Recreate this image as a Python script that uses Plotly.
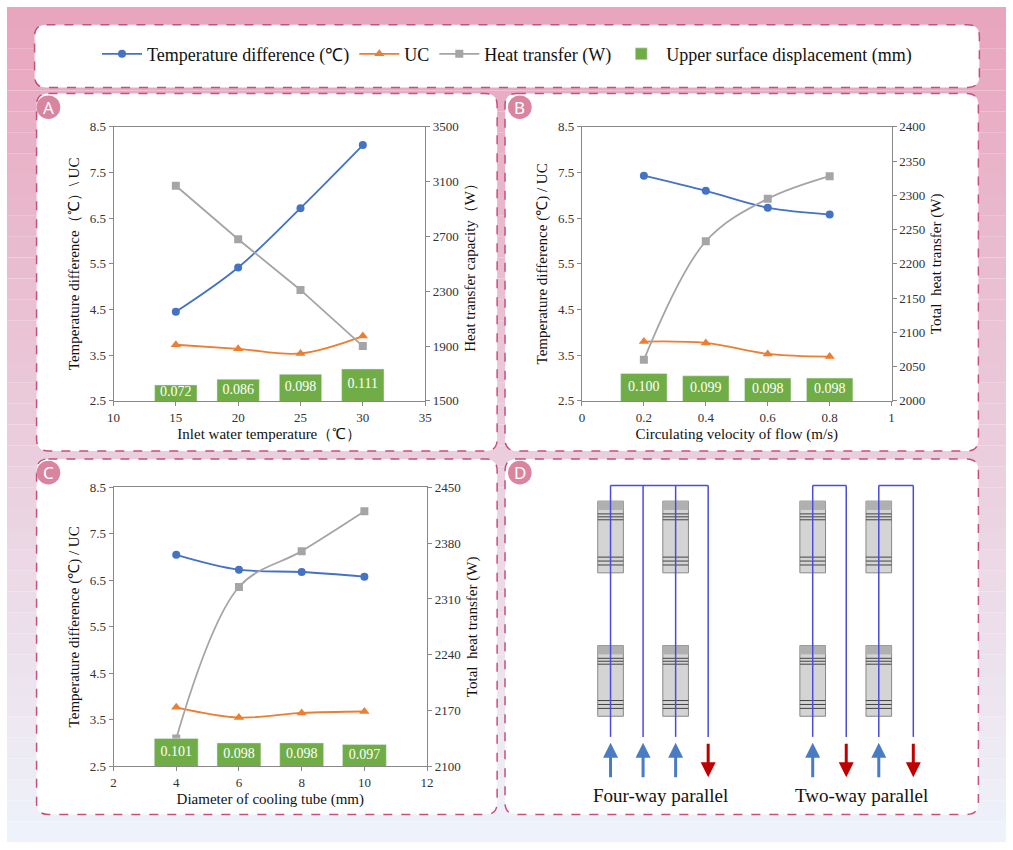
import plotly.graph_objects as go

W, H = 1013, 850
FONT = "Liberation Serif"
BLUE, ORANGE, GRAY, GREEN = "#4472c4", "#ed7d31", "#a5a5a5", "#70ad47"

# ---- data ----
a_x = [15, 20, 25, 30]
a_temp = [4.45, 5.42, 6.72, 8.10]
a_uc = [3.73, 3.64, 3.54, 3.92]
a_heat = [3070, 2680, 2310, 1900]
a_disp = [0.072, 0.086, 0.098, 0.111]

b_x = [0.2, 0.4, 0.6, 0.8]
b_temp = [7.43, 7.10, 6.73, 6.58]
b_uc = [3.80, 3.77, 3.53, 3.47]
b_heat = [2060, 2233, 2295, 2328]
b_disp = [0.100, 0.099, 0.098, 0.098]

c_x = [4, 6, 8, 10]
c_temp = [7.05, 6.73, 6.68, 6.58]
c_uc = [3.77, 3.55, 3.65, 3.68]
c_heat = [2135, 2325, 2370, 2420]
c_disp = [0.101, 0.098, 0.098, 0.097]

def fx(p): return p / W
def fy(p): return 1 - p / H

fig = go.Figure()
shapes, annos = [], []

# background gradient
top, bot = (232, 166, 190), (238, 242, 250)
N = 40
for i in range(N):
    t = i / (N - 1)
    c = tuple(int(top[k] + (bot[k] - top[k]) * t) for k in range(3))
    shapes.append(dict(type="rect", xref="paper", yref="paper", x0=0, x1=1,
                       y0=1 - (i + 1) / N, y1=1 - i / N, fillcolor="rgb(%d,%d,%d)" % c,
                       line=dict(width=0), layer="below"))

def rbox(x0, y0, x1, y1, r=12):
    X0, X1 = fx(x0), fx(x1)
    Y0, Y1 = fy(y1), fy(y0)
    rx, ry = r / W, r / H
    path = (f"M {X0+rx},{Y1} L {X1-rx},{Y1} Q {X1},{Y1} {X1},{Y1-ry} L {X1},{Y0+ry} "
            f"Q {X1},{Y0} {X1-rx},{Y0} L {X0+rx},{Y0} Q {X0},{Y0} {X0},{Y0+ry} "
            f"L {X0},{Y1-ry} Q {X0},{Y1} {X0+rx},{Y1} Z")
    shapes.append(dict(type="path", path=path, xref="paper", yref="paper",
                       fillcolor="white", line=dict(color="#c4507c", width=1.5, dash="dash"),
                       layer="below"))

rbox(28, 18, 986, 82)
rbox(30, 88, 497, 452)
rbox(505, 88, 985, 452)
rbox(30, 460, 497, 822)
rbox(505, 460, 985, 822)

for lab, (cx, cy) in zip("ABCD", [(42, 102), (520, 102), (42, 474), (520, 474)]):
    shapes.append(dict(type="circle", xref="paper", yref="paper",
                       x0=fx(cx - 12), x1=fx(cx + 12), y0=fy(cy + 12), y1=fy(cy - 12),
                       fillcolor="#d9859f", line=dict(width=0)))
    annos.append(dict(text=lab, x=fx(cx), y=fy(cy), xref="paper", yref="paper",
                      xanchor="center", yanchor="middle",
                      showarrow=False, font=dict(color="white", size=17, family="Noto Sans")))

panels = [
    dict(x=a_x, temp=a_temp, uc=a_uc, heat=a_heat, disp=a_disp, dom=(108, 424, 122, 401),
         xr=[10, 35], xd=5, hr=[1500, 3500], hd=400, br=[0.033, 0.702], bw=3.4,
         xt="Inlet water temperature（℃）", yt="Temperature difference（℃）\\ UC",
         rt="Heat transfer capacity（W）", hshape="linear"),
    dict(x=b_x, temp=b_temp, uc=b_uc, heat=b_heat, disp=b_disp, dom=(583, 897, 122, 401),
         xr=[0, 1], xd=0.2, hr=[2000, 2400], hd=50, br=[0.088, 0.208], bw=0.15,
         xt="Circulating velocity of flow (m/s)", yt="Temperature difference (℃) / UC",
         rt="Total  heat transfer (W)", hshape="spline"),
    dict(x=c_x, temp=c_temp, uc=c_uc, heat=c_heat, disp=c_disp, dom=(108, 426, 489, 773),
         xr=[2, 12], xd=2, hr=[2100, 2450], hd=70, br=[0.0825, 0.267], bw=1.4,
         xt="Diameter of cooling tube (mm)", yt="Temperature difference (℃) / UC",
         rt="Total  heat transfer (W)", hshape="spline"),
]

tf = dict(family=FONT, size=13, color="#333")
layout_axes = {}
for i, p in enumerate(panels):
    xn = i + 1
    y1n, y2n, y3n = 3 * i + 1, 3 * i + 2, 3 * i + 3
    xa = "x" if xn == 1 else f"x{xn}"
    ya = lambda n: "y" if n == 1 else f"y{n}"
    x0, x1, t0, t1 = p["dom"]
    dom_x = [fx(x0), fx(x1)]
    dom_y = [fy(t1), fy(t0)]
    layout_axes["xaxis" if xn == 1 else f"xaxis{xn}"] = dict(
        domain=dom_x, range=p["xr"], dtick=p["xd"], anchor=ya(y1n), showgrid=False,
        zeroline=False, showline=True, linecolor="#888", mirror=True, ticks="outside",
        ticklen=4, tickcolor="#888", tickfont=tf,
        title=dict(text=p["xt"], font=dict(family=FONT, size=15, color="#111"), standoff=4))
    layout_axes["yaxis" if y1n == 1 else f"yaxis{y1n}"] = dict(
        domain=dom_y, range=[2.5, 8.5], dtick=1, tick0=2.5, anchor=xa, showgrid=False,
        zeroline=False, showline=True, linecolor="#888", ticks="outside", ticklen=4,
        tickcolor="#888", tickfont=tf,
        title=dict(text=p["yt"], font=dict(family=FONT, size=15, color="#111"), standoff=6))
    layout_axes[f"yaxis{y2n}"] = dict(
        domain=dom_y, range=p["hr"], dtick=p["hd"], tick0=p["hr"][0], anchor=xa,
        overlaying=ya(y1n), side="right", showgrid=False, zeroline=False, showline=True,
        linecolor="#888", ticks="outside", ticklen=4, tickcolor="#888", tickfont=tf,
        title=dict(text=p["rt"], font=dict(family=FONT, size=15, color="#111"), standoff=6))
    layout_axes[f"yaxis{y3n}"] = dict(
        domain=dom_y, range=p["br"], anchor=xa, overlaying=ya(y1n), visible=False)

    show = i == 0
    fig.add_trace(go.Bar(x=p["x"], y=p["disp"], width=p["bw"], marker_color=GREEN,
                         name="Upper surface displacement (mm)", showlegend=show,
                         legendrank=4, xaxis=xa, yaxis=ya(y3n)))
    fig.add_trace(go.Scatter(x=p["x"], y=[(p["br"][0] + v) / 2 for v in p["disp"]],
                             mode="text", text=["%.3f" % v for v in p["disp"]],
                             textfont=dict(color="white", family=FONT, size=14),
                             showlegend=False, hoverinfo="skip", cliponaxis=False,
                             xaxis=xa, yaxis=ya(y3n)))
    fig.add_trace(go.Scatter(x=p["x"], y=p["heat"], mode="lines+markers",
                             line=dict(color=GRAY, width=1.8, shape=p["hshape"]),
                             marker=dict(symbol="square", size=8, color=GRAY),
                             name="Heat transfer (W)", showlegend=show, legendrank=3,
                             xaxis=xa, yaxis=ya(y2n)))
    fig.add_trace(go.Scatter(x=p["x"], y=p["uc"], mode="lines+markers",
                             line=dict(color=ORANGE, width=1.8, shape="spline"),
                             marker=dict(symbol="triangle-up", size=9, color=ORANGE),
                             name="UC", showlegend=show, legendrank=2,
                             xaxis=xa, yaxis=ya(y1n)))
    fig.add_trace(go.Scatter(x=p["x"], y=p["temp"], mode="lines+markers",
                             line=dict(color=BLUE, width=1.8, shape="spline"),
                             marker=dict(symbol="circle", size=8, color=BLUE),
                             name="Temperature difference (℃)", showlegend=show,
                             legendrank=1, xaxis=xa, yaxis=ya(y1n)))

# ---- panel D schematic ----
def line(x0, y0, x1, y1, color="#4b4bdc", w=1.5):
    shapes.append(dict(type="line", xref="paper", yref="paper", x0=fx(x0), y0=fy(y0),
                       x1=fx(x1), y1=fy(y1), line=dict(color=color, width=w)))

def block(xc, yt, yb):
    shapes.append(dict(type="rect", xref="paper", yref="paper", x0=fx(xc - 13), x1=fx(xc + 13),
                       y0=fy(yb), y1=fy(yt), fillcolor="#d4d4d4", line=dict(color="#888", width=1)))
    shapes.append(dict(type="rect", xref="paper", yref="paper", x0=fx(xc - 13), x1=fx(xc + 13),
                       y0=fy(yt + 9), y1=fy(yt), fillcolor="#b0b0b0", line=dict(width=0)))
    for dy in (13, 16, 19, yb - yt - 16, yb - yt - 12, yb - yt - 8):
        line(xc - 13, yt + dy, xc + 13, yt + dy, color="#444", w=1)

def arrow(x, up):
    if up:
        annos.append(dict(x=fx(x), y=fy(749), ax=0, ay=36, xref="paper", yref="paper",
                          showarrow=True, arrowhead=2,
                          arrowsize=1, arrowwidth=3, arrowcolor="#4a7cc4", text=""))
    else:
        annos.append(dict(x=fx(x), y=fy(784), ax=0, ay=-35, xref="paper", yref="paper",
                          showarrow=True, arrowhead=2,
                          arrowsize=1, arrowwidth=3, arrowcolor="#c00000", text=""))

for xc in (612, 678, 817, 884):
    block(xc, 503, 576)
    block(xc, 650, 722)
for xv in (612, 645, 678, 711, 817, 851, 884, 919):
    line(xv, 487, xv, 743)
line(612, 487, 711, 487)
line(817, 487, 851, 487)
line(884, 487, 919, 487)
for xv, up in [(612, 1), (645, 1), (678, 1), (711, 0), (817, 1), (851, 0), (884, 1), (919, 0)]:
    arrow(xv, up)
annos.append(dict(text="Four-way parallel", x=fx(663), y=fy(803), xref="paper", yref="paper",
                  xanchor="center", yanchor="middle",
                  showarrow=False, font=dict(family=FONT, size=19, color="#111")))
annos.append(dict(text="Two-way parallel", x=fx(866), y=fy(803), xref="paper", yref="paper",
                  xanchor="center", yanchor="middle",
                  showarrow=False, font=dict(family=FONT, size=19, color="#111")))

fig.update_layout(
    width=W, height=H, margin=dict(l=0, r=0, t=0, b=0),
    paper_bgcolor="white", plot_bgcolor="rgba(0,0,0,0)",
    shapes=shapes, annotations=annos, barmode="overlay",
    legend=dict(orientation="h", x=fx(507), y=fy(48), xanchor="center", yanchor="middle",
                font=dict(family=FONT, size=18, color="#111"), bgcolor="rgba(0,0,0,0)",
                traceorder="normal", itemwidth=40),
    **layout_axes,
)
fig.write_html("out.html", config={"displayModeBar": False},
               post_script="document.body.style.margin='0';document.body.style.padding='0';"
                           "document.body.style.overflow='hidden';")
